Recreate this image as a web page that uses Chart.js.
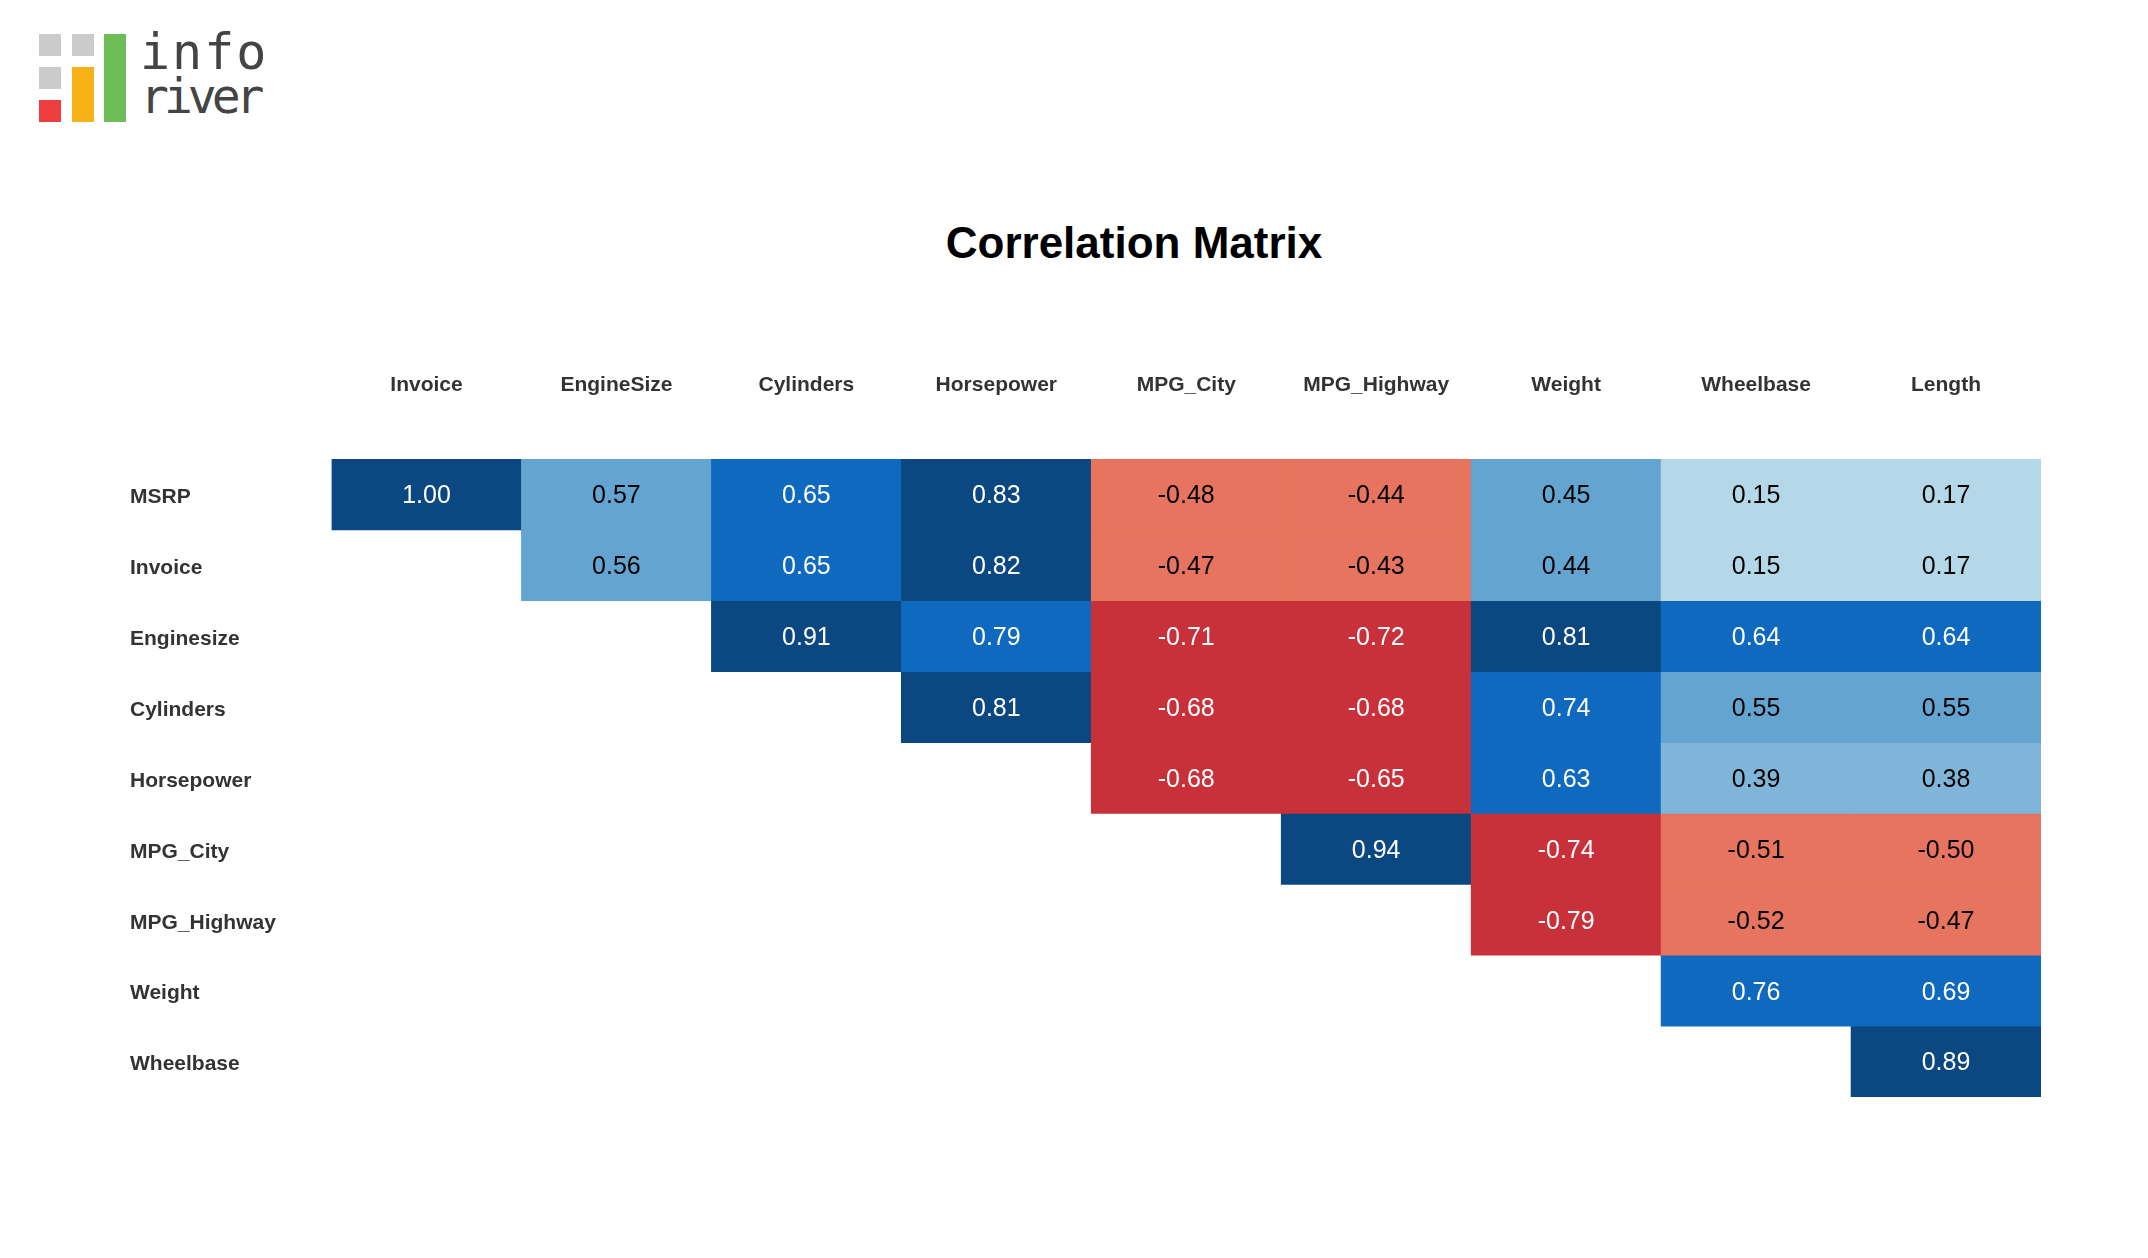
<!DOCTYPE html>
<html>
<head>
<meta charset="utf-8">
<title>Correlation Matrix</title>
<script src="https://cdn.jsdelivr.net/npm/chart.js@4.4.1/dist/chart.umd.min.js"></script>
<style>
    body { margin: 0; background: #fff; }
    #page { position: relative; width: 2148px; height: 1258px; overflow: hidden; }
    #myChart { position: absolute; left: 0; top: 0; }
    .sq { position: absolute; }
    .logoTxt { position: absolute; font-family: "DejaVu Sans Mono", monospace; color: #444; line-height: 1; }
    #title { position: absolute; left: 1134px; top: 218px; transform: translateX(-50%);
        font: bold 44px "Liberation Sans", Arial, sans-serif; color: #000; white-space: nowrap; }
</style>
</head>
<body>
<div id="page">
    <div class="sq" style="left:39px;top:34px;width:22px;height:22px;background:#cbcbcb"></div>
    <div class="sq" style="left:72px;top:34px;width:22px;height:22px;background:#cbcbcb"></div>
    <div class="sq" style="left:39px;top:67px;width:22px;height:22px;background:#cbcbcb"></div>
    <div class="sq" style="left:39px;top:100px;width:22px;height:22px;background:#ef3d3f"></div>
    <div class="sq" style="left:72px;top:67px;width:22px;height:55px;background:#f9b118"></div>
    <div class="sq" style="left:104px;top:34px;width:22px;height:88px;background:#6cbd56"></div>
    <div class="logoTxt" style="left:140px;top:27px;font-size:50px;letter-spacing:2px">info</div>
    <div class="logoTxt" style="left:140px;top:72px;font-size:48px;letter-spacing:-5px">river</div>
    <div id="title">Correlation Matrix</div>
    <canvas id="myChart" width="2148" height="1258"></canvas>
</div>
<script>
'use strict'
// column and row names
var colLabels = ['Invoice', 'EngineSize', 'Cylinders', 'Horsepower', 'MPG_City', 'MPG_Highway', 'Weight', 'Wheelbase', 'Length'];
var rowLabels = ['MSRP', 'Invoice', 'Enginesize', 'Cylinders', 'Horsepower', 'MPG_City', 'MPG_Highway', 'Weight', 'Wheelbase'];

// one array per row, null where the cell is empty
var msrp = [1.00, 0.57, 0.65, 0.83, -0.48, -0.44, 0.45, 0.15, 0.17];
var invoice = [null, 0.56, 0.65, 0.82, -0.47, -0.43, 0.44, 0.15, 0.17];
var enginesize = [null, null, 0.91, 0.79, -0.71, -0.72, 0.81, 0.64, 0.64];
var cylinders = [null, null, null, 0.81, -0.68, -0.68, 0.74, 0.55, 0.55];
var horsepower = [null, null, null, null, -0.68, -0.65, 0.63, 0.39, 0.38];
var mpgCity = [null, null, null, null, null, 0.94, -0.74, -0.51, -0.50];
var mpgHighway = [null, null, null, null, null, null, -0.79, -0.52, -0.47];
var weight = [null, null, null, null, null, null, null, 0.76, 0.69];
var wheelbase = [null, null, null, null, null, null, null, null, 0.89];

var allRows = [msrp, invoice, enginesize, cylinders, horsepower, mpgCity, mpgHighway, weight, wheelbase];

var fontFam = '"Liberation Sans", Arial, Helvetica, sans-serif';

function cellColor(v) {
    if (v >= 0.8) return '#0b4781';
    if (v >= 0.6) return '#0f69bf';
    if (v >= 0.4) return '#64a4d0';
    if (v >= 0.2) return '#7fb5d8';
    if (v >= 0) return '#b4d8e8';
    if (v > -0.6) return '#e6745e';
    return '#c8303a';
}

var datasets = [];
for (let r = 0; r < allRows.length; r++) {
    datasets.push({
        label: rowLabels[r],
        data: allRows[r].map(v => v === null ? null : [r, r + 1]),
        values: allRows[r],
        backgroundColor: allRows[r].map(v => v === null ? 'rgba(0,0,0,0)' : cellColor(v)),
        borderWidth: 0,
        grouped: false,
        barPercentage: 1,
        categoryPercentage: 1
    });
}

// writes the value in the middle of each cell
var cellText = {
    id: 'cellText',
    afterDatasetsDraw(chart) {
        var ctx = chart.ctx;
        ctx.save();
        ctx.font = '25px ' + fontFam;
        ctx.textAlign = 'center';
        ctx.textBaseline = 'middle';
        chart.data.datasets.forEach((ds, i) => {
            chart.getDatasetMeta(i).data.forEach((bar, j) => {
                var v = ds.values[j];
                if (v === null) return;
                var p = bar.getCenterPoint();
                ctx.fillStyle = Math.abs(v) >= 0.6 ? '#ffffff' : '#000000';
                ctx.fillText(v.toFixed(2), p.x, p.y + 2);
            });
        });
        ctx.restore();
    }
};

var ctx = document.getElementById('myChart').getContext('2d');

var chart = new Chart(ctx, {
    type: 'bar',
    data: {
        labels: colLabels,
        datasets: datasets
    },
    plugins: [cellText],
    options: {
        responsive: false,
        animation: false,
        layout: { padding: { left: 130, top: 300, right: 107, bottom: 161 } },
        plugins: {
            legend: { display: false },
            tooltip: { enabled: false }
        },
        scales: {
            x: {
                type: 'category',
                position: 'top',
                offset: true,
                grid: { display: false, drawTicks: false },
                border: { display: false },
                ticks: {
                    color: '#333',
                    font: { family: fontFam, size: 21, weight: 'bold' },
                    padding: 61,
                    maxRotation: 0,
                    autoSkip: false
                },
                afterFit(axis) { axis.height = 159; }
            },
            y: {
                type: 'linear',
                min: 0,
                max: 9,
                reverse: true,
                grid: { display: false, drawTicks: false },
                border: { display: false },
                afterBuildTicks(axis) {
                    axis.ticks = rowLabels.map((n, i) => ({ value: i + 0.5 }));
                },
                ticks: {
                    crossAlign: 'far',
                    autoSkip: false,
                    labelOffset: 3,
                    color: '#333',
                    font: { family: fontFam, size: 21, weight: 'bold' },
                    callback: (v, i) => rowLabels[i]
                },
                afterFit(axis) { axis.width = 201.5; }
            }
        }
    }
});
</script>
</body>
</html>
